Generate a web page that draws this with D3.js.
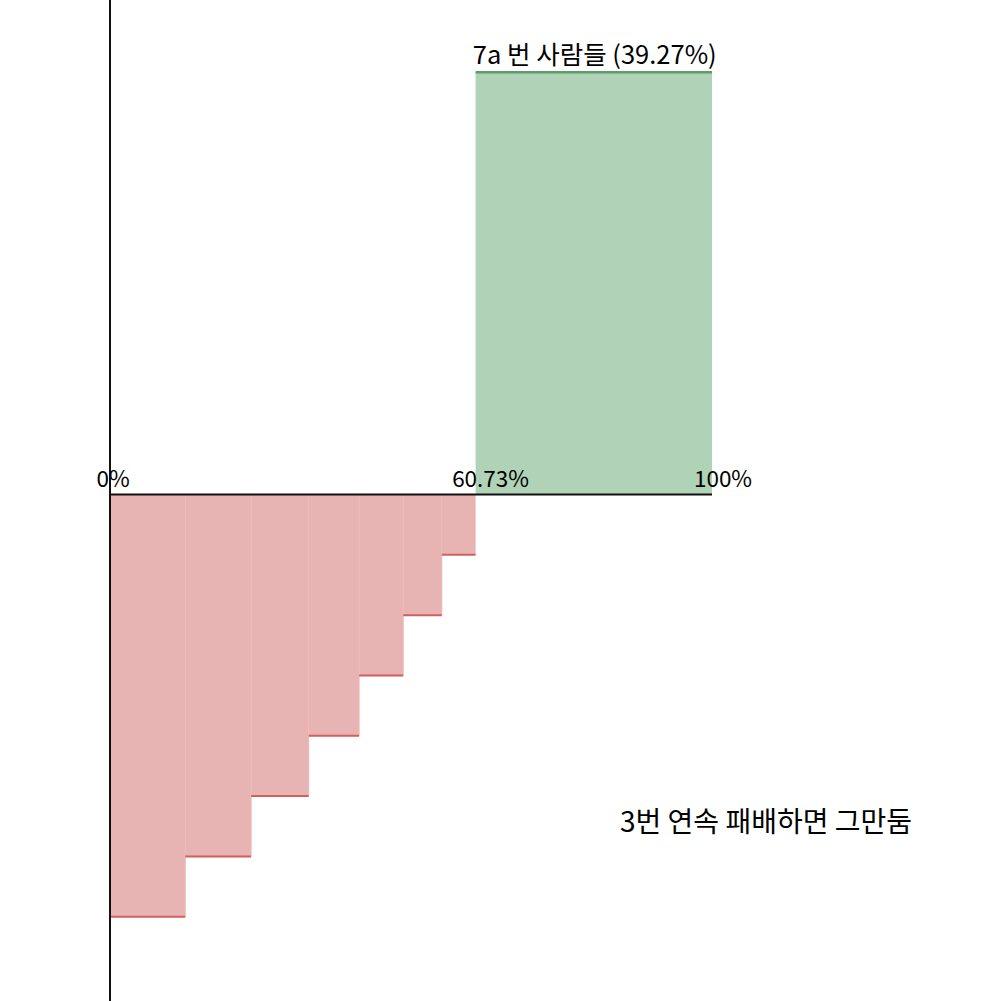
<!DOCTYPE html>
<html>
<head>
<meta charset="utf-8">
<script src="https://cdn.jsdelivr.net/npm/d3@7"></script>
<style>
  body { margin: 0; background: #fff; }
  svg { display: block; font-family: "Noto Sans CJK KR", "Noto Sans", sans-serif; }
</style>
</head>
<body>
<script>
// share of people (%) who stop after each losing streak step
const lossShares = [12.5, 10.94, 9.57, 8.37, 7.33, 6.41, 5.61];
const lossLevels = [-7, -6, -5, -4, -3, -2, -1];
const winShare = 39.27;
const winLevel = 7;
const tickValues = [0, 60.73, 100];
const tickLabels = ["0%", "60.73%", "100%"];
const winTitle = "7a 번 사람들 (39.27%)";
const noteText = "3번 연속 패배하면 그만둠";

const width = 991, height = 1001;

const svg = d3.select("body").append("svg")
    .attr("width", width)
    .attr("height", height);

// scales
const x = d3.scaleLinear().domain([0, 100]).range([110, 712]);
const y = d3.scaleLinear().domain([-7, 7]).range([916.7, 72.3]);

// build segments with running start
let acc = 0;
const lossData = lossShares.map((s, i) => {
    const d = { start: acc, end: acc + s, level: lossLevels[i] };
    acc += s;
    return d;
});
const winData = [{ start: acc, end: acc + winShare, level: winLevel }];

// red fills
svg.selectAll("rect.loss")
    .data(lossData)
    .enter()
    .append("rect")
      .attr("class", "loss")
      .attr("x", d => x(d.start))
      .attr("y", y(0))
      .attr("width", d => x(d.end) - x(d.start))
      .attr("height", d => y(d.level) - y(0))
      .style("fill", "#e8b3b3");

// faint separators between red blocks
svg.selectAll("line.sep")
    .data(lossData.slice(1))
    .enter()
    .append("line")
      .attr("x1", d => x(d.start))
      .attr("x2", d => x(d.start))
      .attr("y1", y(0))
      .attr("y2", d => y(lossData[lossData.indexOf(d) - 1].level))
      .style("stroke", "#ebbaba")
      .style("stroke-width", 1);

// red bottoms
svg.selectAll("line.lossEdge")
    .data(lossData)
    .enter()
    .append("line")
      .attr("x1", d => x(d.start))
      .attr("x2", d => x(d.end))
      .attr("y1", d => y(d.level))
      .attr("y2", d => y(d.level))
      .style("stroke", "#d25f5f")
      .style("stroke-width", 2);

// green block
svg.selectAll("rect.win")
    .data(winData)
    .enter()
    .append("rect")
      .attr("class", "win")
      .attr("x", d => x(d.start))
      .attr("y", d => y(d.level))
      .attr("width", d => x(d.end) - x(d.start))
      .attr("height", d => y(0) - y(d.level))
      .style("fill", "#b0d2b7");

svg.selectAll("line.winEdge")
    .data(winData)
    .enter()
    .append("line")
      .attr("x1", d => x(d.start))
      .attr("x2", d => x(d.end))
      .attr("y1", d => y(d.level))
      .attr("y2", d => y(d.level))
      .style("stroke", "#5c9e69")
      .style("stroke-width", 2.5);

// axes
svg.append("line")
    .attr("x1", x(0)).attr("x2", x(0))
    .attr("y1", 0).attr("y2", height)
    .style("stroke", "#111")
    .style("stroke-width", 2);

svg.append("line")
    .attr("x1", x(0)).attr("x2", x(100))
    .attr("y1", y(0)).attr("y2", y(0))
    .style("stroke", "#111")
    .style("stroke-width", 2);

// tick labels
const tickShift = [3, 15, 11];
svg.selectAll("text.tick")
    .data(tickValues)
    .enter()
    .append("text")
      .attr("class", "tick")
      .attr("x", (d, i) => x(d) + tickShift[i])
      .attr("y", 486.5)
      .attr("text-anchor", "middle")
      .attr("font-size", "22.5px")
      .attr("fill", "#000")
      .text((d, i) => tickLabels[i]);

// title above green block
svg.append("text")
    .attr("x", (x(winData[0].start) + x(winData[0].end)) / 2 + 1)
    .attr("y", 63.5)
    .attr("text-anchor", "middle")
    .attr("font-size", "25.5px")
    .attr("fill", "#000")
    .text(winTitle);

// note
svg.append("text")
    .attr("x", 766)
    .attr("y", 832)
    .attr("text-anchor", "middle")
    .attr("font-size", "28px")
    .attr("fill", "#000")
    .text(noteText);
</script>
</body>
</html>
